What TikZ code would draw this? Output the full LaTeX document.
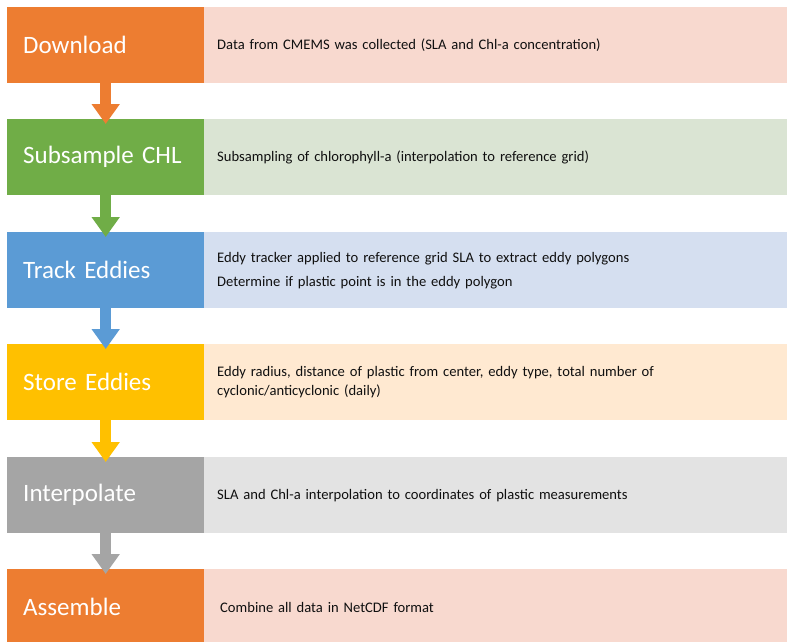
\documentclass[tikz,border=0pt]{standalone}
\usepackage{fontspec}
\setmainfont{Carlito}
\usetikzlibrary{arrows.meta}
\definecolor{cOr}{HTML}{ED7D31}\definecolor{lOr}{HTML}{F8D9CF}
\definecolor{cGr}{HTML}{70AD47}\definecolor{lGr}{HTML}{DAE4D3}
\definecolor{cBl}{HTML}{5B9BD5}\definecolor{lBl}{HTML}{D5DFF0}
\definecolor{cGo}{HTML}{FFC000}\definecolor{lGo}{HTML}{FFE9D1}
\definecolor{cGy}{HTML}{A5A5A5}\definecolor{lGy}{HTML}{E3E3E3}
\definecolor{txt}{HTML}{101010}
\tikzset{
  lbox/.style={anchor=north west, minimum width=197pt, minimum height=76pt,
    text width=165pt, inner xsep=16pt, inner ysep=0pt, align=left, text=white,
    font=\fontsize{25}{30}\selectfont},
  rbox/.style={anchor=north west, minimum width=586pt, minimum height=76pt,
    text width=560pt, inner xsep=13pt, inner ysep=0pt, align=left, text=txt,
    font=\fontsize{14.6}{19}\selectfont},
  flow/.style={line width=11pt, -{Triangle[width=27pt,length=20pt]}}
}
\begin{document}
\begin{tikzpicture}[x=1pt,y=-1pt]
\useasboundingbox (0,0) rectangle (787,642);
\fill[white] (0,0) rectangle (787,642);
% left step boxes
\node[lbox, fill=cOr] (L1) at (7,7)   {Download};
\node[lbox, fill=cGr] (L2) at (7,119) {Subsample CHL};
\node[lbox, fill=cBl] (L3) at (7,232) {Track Eddies};
\node[lbox, fill=cGo] (L4) at (7,344) {Store Eddies};
\node[lbox, fill=cGy] (L5) at (7,457) {Interpolate};
\node[lbox, fill=cOr] (L6) at (7,569) {Assemble};
% right description boxes
\node[rbox, fill=lOr] (R1) at (204,7)   {Data from CMEMS was collected (SLA and Chl-a concentration)};
\node[rbox, fill=lGr] (R2) at (204,119) {Subsampling of chlorophyll-a (interpolation to reference grid)};
\node[rbox, fill=lBl] (R3) at (204,232) {Eddy tracker applied to reference grid SLA to extract eddy polygons\\[5pt]Determine if plastic point is in the eddy polygon};
\node[rbox, fill=lGo] (R4) at (204,344) {Eddy radius, distance of plastic from center, eddy type, total number of\\cyclonic/anticyclonic (daily)};
\node[rbox, fill=lGy] (R5) at (204,457) {SLA and Chl-a interpolation to coordinates of plastic measurements};
\node[rbox, fill=lOr, text width=557pt, inner xsep=16pt] (R6) at (204,569) {Combine all data in NetCDF format};
% arrows
\draw[flow, cOr] (L1.south) -- ([yshift=-5pt]L2.north);
\draw[flow, cGr] (L2.south) -- ([yshift=-5pt]L3.north);
\draw[flow, cBl] (L3.south) -- ([yshift=-5pt]L4.north);
\draw[flow, cGo] (L4.south) -- ([yshift=-5pt]L5.north);
\draw[flow, cGy] (L5.south) -- ([yshift=-5pt]L6.north);
\end{tikzpicture}
\end{document}
